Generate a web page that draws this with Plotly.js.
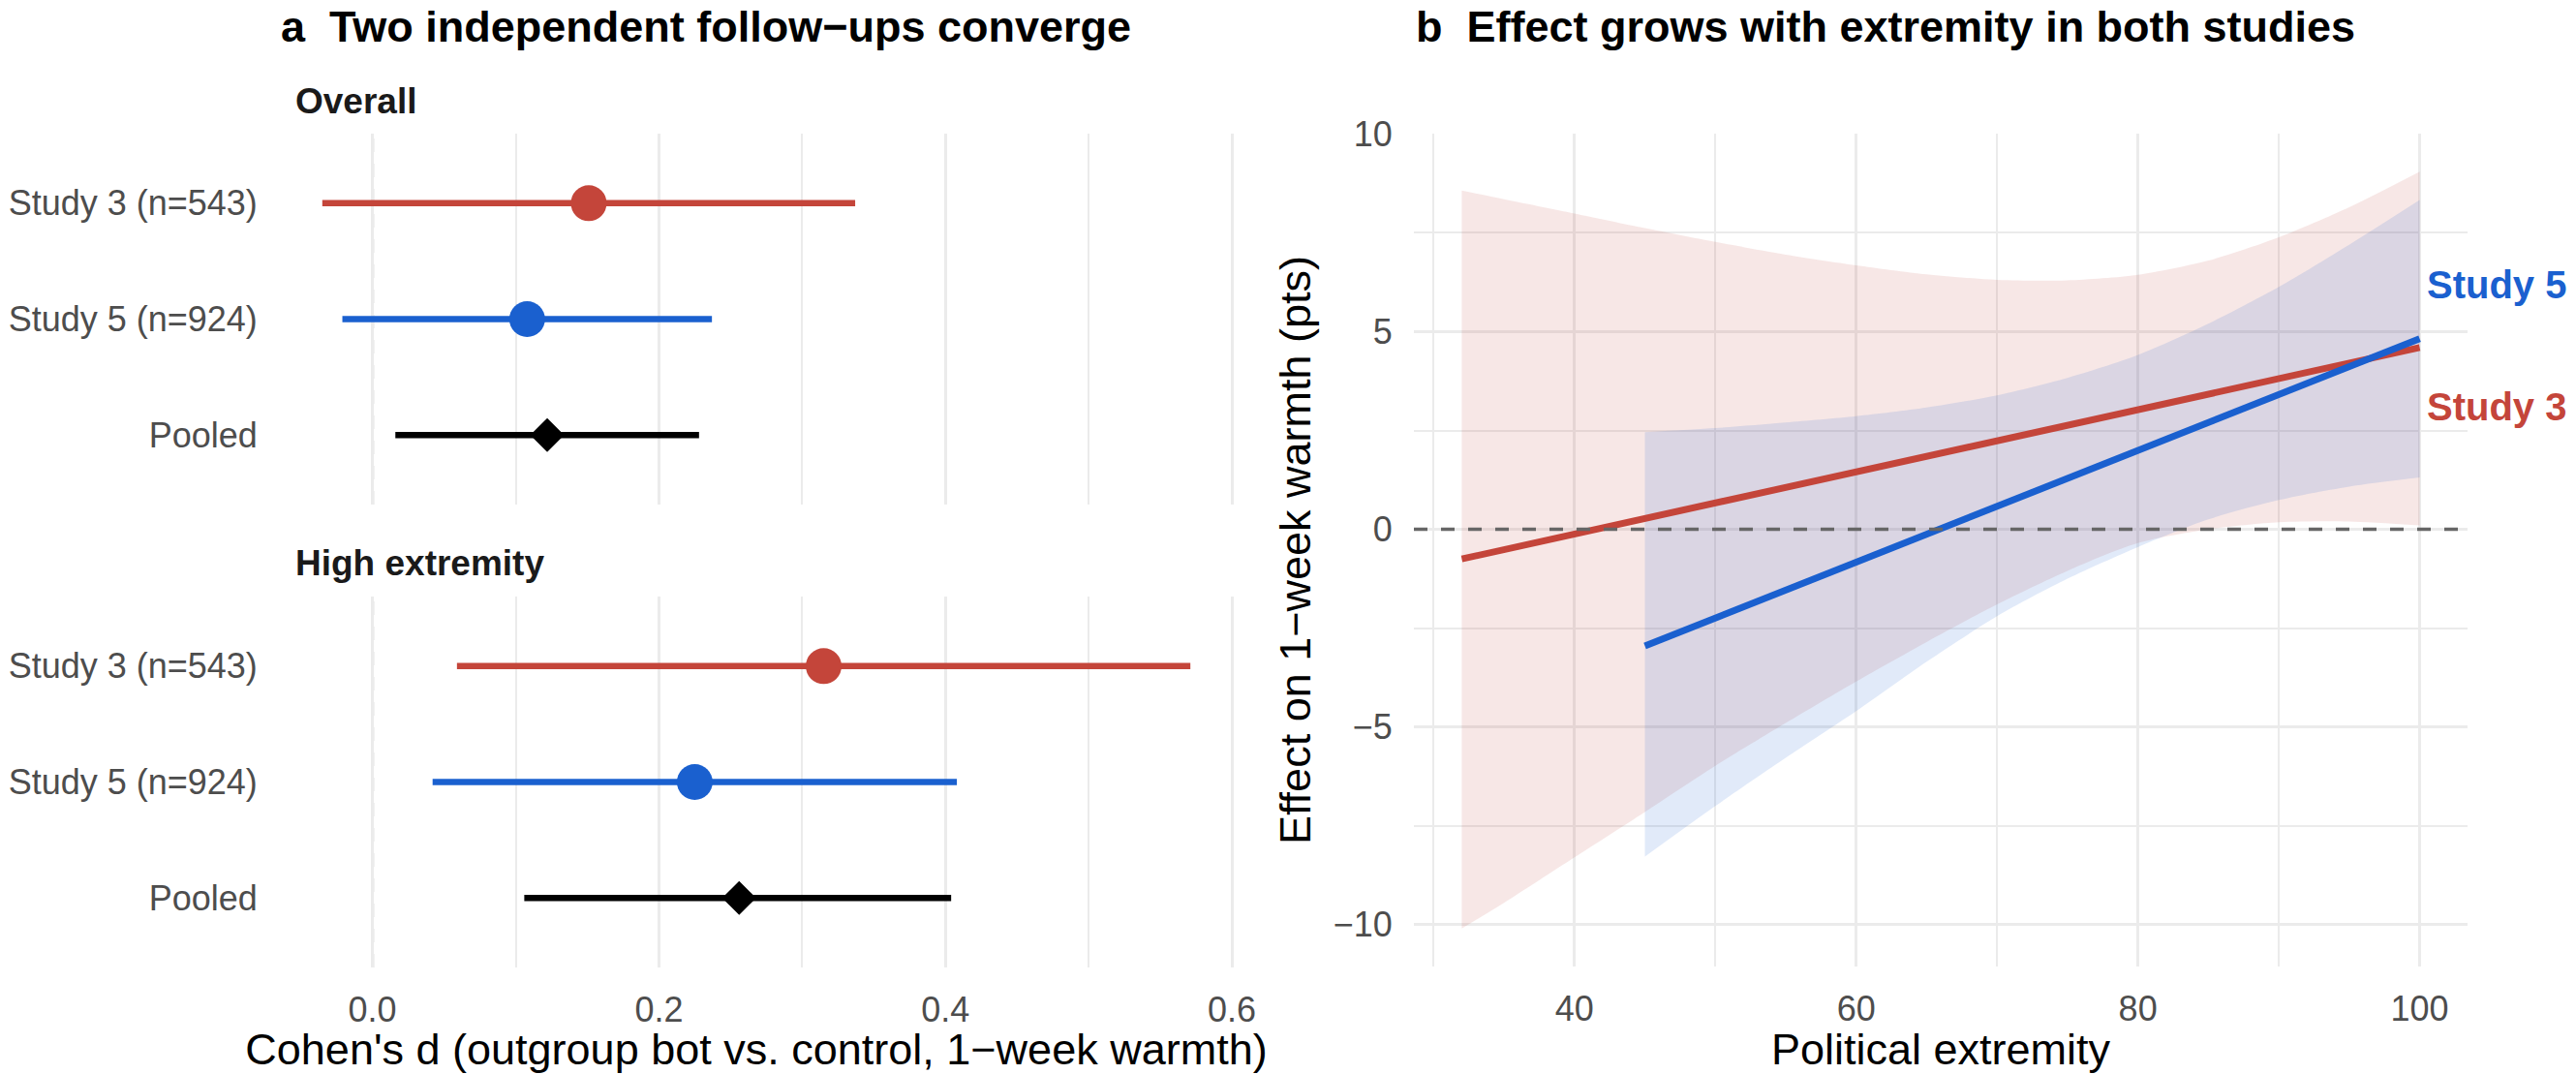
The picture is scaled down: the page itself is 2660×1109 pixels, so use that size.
<!DOCTYPE html>
<html>
<head>
<meta charset="utf-8">
<script src="https://cdn.plot.ly/plotly-3.0.1.min.js"></script>
<style>
  html, body { margin: 0; padding: 0; background: #ffffff; }
  #chart { width: 2660px; height: 1109px; }
</style>
</head>
<body>
<div id="chart"></div>
<script>
// ---------------- Panel a data (Cohen's d, 95% CI) ----------------
const rowLabels = ["Study 3 (n=543)", "Study 5 (n=924)", "Pooled"];
const rowColors = ["#C4453A", "#1A60CF", "#000000"];
const rowSymbols = ["circle", "circle", "diamond"];

const overallEst = [0.151, 0.108, 0.122];
const overallLo  = [-0.035, -0.021, 0.016];
const overallHi  = [0.337, 0.237, 0.228];

const highEst = [0.315, 0.225, 0.256];
const highLo  = [0.059, 0.042, 0.106];
const highHi  = [0.571, 0.408, 0.404];

const facetTitles = ["Overall", "High extremity"];
const xTicksA = [0, 0.2, 0.4, 0.6];

// ---------------- Panel b data (effect vs extremity) ----------------
const s3X     = [32, 35, 40, 45, 50, 55, 60, 65, 70, 75, 80, 85, 90, 95, 100];
const s3Upper = [8.57, 8.35, 7.99, 7.62, 7.27, 6.95, 6.68, 6.45, 6.31, 6.30, 6.44, 6.80, 7.39, 8.15, 9.05];
const s3Lower = [-10.1, -9.45, -8.30, -7.15, -5.98, -4.90, -3.85, -2.85, -1.90, -1.05, -0.35, 0.00, 0.18, 0.20, 0.10];
const s3LineX = [32, 100];
const s3LineY = [-0.75, 4.60];

const s5X     = [45, 50, 55, 60, 65, 70, 75, 80, 85, 90, 95, 100];
const s5Upper = [2.46, 2.56, 2.70, 2.86, 3.08, 3.39, 3.83, 4.41, 5.20, 6.13, 7.20, 8.33];
const s5Lower = [-8.28, -7.00, -5.78, -4.60, -3.35, -2.20, -1.25, -0.45, 0.25, 0.74, 1.08, 1.31];
const s5LineX = [45, 100];
const s5LineY = [-2.95, 4.82];

const seriesLabels = ["Study 3", "Study 5"];
const labelY = [3.1, 6.2];

const xTicksB = [40, 60, 80, 100];
const yTicksB = [-10, -5, 0, 5, 10];

// ---------------- Styling ----------------
const FONT = "Liberation Sans, Arial, Helvetica, sans-serif";
const RED = "#C4453A", BLUE = "#1A60CF";
const GRID = "#EBEBEB";
const TICKCOL = "#4D4D4D";

const traces = [];

function forestFacet(est, lo, hi, xa, ya) {
  for (let i = 0; i < rowLabels.length; i++) {
    traces.push({
      type: "scatter", mode: "lines", xaxis: xa, yaxis: ya,
      x: [lo[i], hi[i]], y: [rowLabels[i], rowLabels[i]],
      line: { color: rowColors[i], width: 6.5 },
      hoverinfo: "skip", showlegend: false
    });
  }
  for (let i = 0; i < rowLabels.length; i++) {
    traces.push({
      type: "scatter", mode: "markers", xaxis: xa, yaxis: ya,
      x: [est[i]], y: [rowLabels[i]],
      marker: { color: rowColors[i], size: rowSymbols[i] === "diamond" ? 27 : 37,
                symbol: rowSymbols[i], line: { width: 0 } },
      showlegend: false
    });
  }
}
forestFacet(overallEst, overallLo, overallHi, "x", "y");
forestFacet(highEst, highLo, highHi, "x2", "y2");

function ribbon(xs, lower, upper, color) {
  traces.push({
    type: "scatter", mode: "lines", xaxis: "x3", yaxis: "y3",
    x: xs, y: lower, line: { width: 0, shape: "spline", smoothing: 0.8 },
    hoverinfo: "skip", showlegend: false
  });
  traces.push({
    type: "scatter", mode: "lines", xaxis: "x3", yaxis: "y3",
    x: xs, y: upper, line: { width: 0, shape: "spline", smoothing: 0.8 },
    fill: "tonexty", fillcolor: color,
    hoverinfo: "skip", showlegend: false
  });
}
ribbon(s3X, s3Lower, s3Upper, "rgba(196,69,58,0.13)");
ribbon(s5X, s5Lower, s5Upper, "rgba(26,96,207,0.13)");

traces.push({
  type: "scatter", mode: "lines", xaxis: "x3", yaxis: "y3",
  x: s3LineX, y: s3LineY, line: { color: RED, width: 7 }, name: "Study 3", showlegend: false
});
traces.push({
  type: "scatter", mode: "lines", xaxis: "x3", yaxis: "y3",
  x: s5LineX, y: s5LineY, line: { color: BLUE, width: 7 }, name: "Study 5", showlegend: false
});

// Domains (paper fractions)
const W = 2660, H = 1109;
const axA = [288 / W, 1274 / W];
const yOver = [1 - 521 / H, 1 - 138 / H];
const yHigh = [1 - 999 / H, 1 - 616 / H];
const axB = [1460 / W, 2548 / W];
const yB = [1 - 998 / H, 1 - 138 / H];

const tickFont = { family: FONT, size: 36, color: TICKCOL };
const titleFont = { family: FONT, size: 45, color: "#000000" };

function xA(showLabels, extra) {
  return Object.assign({
    domain: axA, range: [-0.0653, 0.6013],
    tickvals: xTicksA, tickformat: ".1f",
    showticklabels: showLabels,
    showgrid: true, gridcolor: GRID, gridwidth: 3,
    minor: { dtick: 0.1, tick0: 0, showgrid: true, gridcolor: GRID, gridwidth: 2 },
    zeroline: false, showline: false,
    ticks: showLabels ? "outside" : "", ticklen: 12, tickcolor: "rgba(0,0,0,0)",
    tickfont: tickFont
  }, extra || {});
}
function yA(domain, anchor) {
  return {
    domain: domain, anchor: anchor, type: "category",
    categoryorder: "array", categoryarray: rowLabels,
    range: [2.6, -0.6],
    showgrid: false, zeroline: false, showline: false,
    ticks: "outside", ticklen: 14, tickcolor: "rgba(0,0,0,0)",
    tickfont: { family: FONT, size: 36, color: TICKCOL }
  };
}

const layout = {
  width: W, height: H,
  margin: { l: 0, r: 0, t: 0, b: 0, pad: 0 },
  paper_bgcolor: "#ffffff", plot_bgcolor: "#ffffff",
  showlegend: false,
  font: { family: FONT, color: "#000000" },
  xaxis: xA(false, { anchor: "y" }),
  yaxis: yA(yOver, "x"),
  xaxis2: xA(true, {
    anchor: "y2", matches: "x",
    title: { text: "Cohen's d (outgroup bot vs. control, 1\u2212week warmth)", font: titleFont, standoff: 14 }
  }),
  yaxis2: yA(yHigh, "x2"),
  xaxis3: {
    domain: axB, anchor: "y3", range: [28.6, 103.4],
    tickvals: xTicksB,
    showgrid: true, gridcolor: GRID, gridwidth: 3,
    minor: { dtick: 10, tick0: 30, showgrid: true, gridcolor: GRID, gridwidth: 2 },
    zeroline: false, showline: false,
    ticks: "outside", ticklen: 12, tickcolor: "rgba(0,0,0,0)",
    tickfont: tickFont,
    title: { text: "Political extremity", font: titleFont, standoff: 14 }
  },
  yaxis3: {
    domain: yB, anchor: "x3", range: [-11.06, 10.01],
    tickvals: yTicksB,
    showgrid: true, gridcolor: GRID, gridwidth: 3,
    minor: { dtick: 2.5, tick0: 0, showgrid: true, gridcolor: GRID, gridwidth: 2 },
    zeroline: false, showline: false,
    ticks: "outside", ticklen: 14, tickcolor: "rgba(0,0,0,0)",
    tickfont: tickFont,
    title: { text: "Effect on 1\u2212week warmth (pts)", font: titleFont, standoff: 8 }
  },
  shapes: [
    { type: "line", xref: "x", yref: "y domain", x0: 0, x1: 0, y0: 0, y1: 1,
      line: { color: "#666666", width: 3, dash: "14px,12px" }, layer: "below" },
    { type: "line", xref: "x2", yref: "y2 domain", x0: 0, x1: 0, y0: 0, y1: 1,
      line: { color: "#666666", width: 3, dash: "14px,12px" }, layer: "below" },
    { type: "line", xref: "x3 domain", yref: "y3", x0: 0, x1: 1, y0: 0, y1: 0,
      line: { color: "#666666", width: 3.5, dash: "14px,14px" }, layer: "above" }
  ],
  annotations: [
    { text: "a\u00A0\u00A0Two independent follow\u2212ups converge", xref: "paper", yref: "paper",
      x: 288 / W, y: 1 - 27 / H, xanchor: "left", yanchor: "middle", showarrow: false,
      font: { family: FONT, size: 45, color: "#000000", weight: "bold" } },
    { text: "b\u00A0\u00A0Effect grows with extremity in both studies", xref: "paper", yref: "paper",
      x: 1460 / W, y: 1 - 27 / H, xanchor: "left", yanchor: "middle", showarrow: false,
      font: { family: FONT, size: 45, color: "#000000", weight: "bold" } },
    { text: facetTitles[0], xref: "paper", yref: "paper",
      x: 303 / W, y: 1 - 104 / H, xanchor: "left", yanchor: "middle", showarrow: false,
      font: { family: FONT, size: 37, color: "#1A1A1A", weight: "bold" } },
    { text: facetTitles[1], xref: "paper", yref: "paper",
      x: 303 / W, y: 1 - 581 / H, xanchor: "left", yanchor: "middle", showarrow: false,
      font: { family: FONT, size: 37, color: "#1A1A1A", weight: "bold" } },
    { text: seriesLabels[0], xref: "x3", yref: "y3", x: s3LineX[1], y: labelY[0],
      xanchor: "left", yanchor: "middle", xshift: 5, showarrow: false,
      font: { family: FONT, size: 40, color: RED, weight: "bold" } },
    { text: seriesLabels[1], xref: "x3", yref: "y3", x: s5LineX[1], y: labelY[1],
      xanchor: "left", yanchor: "middle", xshift: 5, showarrow: false,
      font: { family: FONT, size: 40, color: BLUE, weight: "bold" } }
  ]
};

Plotly.newPlot("chart", traces, layout, { displayModeBar: false, responsive: false });
</script>
</body>
</html>
